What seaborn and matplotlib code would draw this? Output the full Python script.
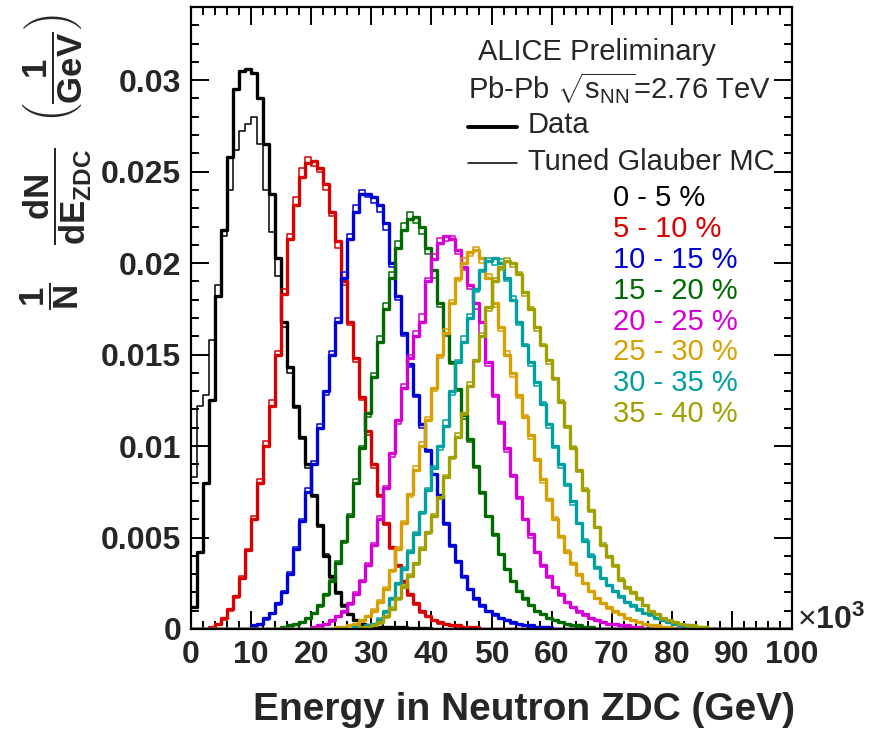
import numpy as np
import pandas as pd
import matplotlib
matplotlib.use("Agg")
import matplotlib.pyplot as plt
import seaborn as sns
from matplotlib.lines import Line2D

sns.set_theme(style="ticks")
plt.rcParams["font.family"] = ["Liberation Sans", "DejaVu Sans"]
plt.rcParams["mathtext.fontset"] = "custom"
plt.rcParams["mathtext.rm"] = "Liberation Sans"
plt.rcParams["mathtext.it"] = "Liberation Sans:italic"
plt.rcParams["mathtext.bf"] = "Liberation Sans:bold"

# ---------------- data ----------------
# histogram bin width: 1 (x10^3 GeV); values in units of 1e-4 (1/N dN/dE, 1/GeV)
UNIT = 1e-4
BIN_W = 1.0
E_MIN, E_MAX = 0, 100

classes = ["0 - 5 %", "5 - 10 %", "10 - 15 %", "15 - 20 %",
           "20 - 25 %", "25 - 30 %", "30 - 35 %", "35 - 40 %"]
colors = ["#000000", "#d80000", "#0000d8", "#006a00",
          "#d400d4", "#d6a000", "#00a0a0", "#a0a000"]

# first bin lower edge (x10^3 GeV) of each class
start_0_5, start_5_10, start_10_15, start_15_20 = 0, 3, 10, 15
start_20_25, start_25_30, start_30_35, start_35_40 = 20, 24, 27, 28

data_0_5 = [12, 42, 80, 125, 182, 218, 258, 295, 305, 306, 304, 290, 265, 238, 203,
            168, 143, 122, 105, 90, 73, 57, 40, 29, 20, 13, 8, 5, 3, 2, 1.5, 1, 1, 1,
            1, 1, 0.5, 0.5, 0.5, 0.5]
mc_0_5 = [83, 122, 128, 158, 188, 215, 240, 262, 272, 276, 280, 265, 240, 217, 193,
          165, 140, 121, 104, 88, 72, 56, 41, 28, 19, 12, 8, 5, 3, 2, 1, 1, 1, 0.5, 0.5]

data_5_10 = [1, 3, 6, 11, 18, 28, 43, 60, 80, 100, 122, 150, 183, 213, 232, 247, 255,
             256, 252, 243, 228, 212, 190, 168, 148, 127, 108, 90, 73, 58, 45, 35, 26,
             19, 14, 10, 7, 5, 4, 3, 2, 2, 1, 1, 1]
mc_5_10 = [1, 2, 5, 10, 17, 29, 44, 62, 82, 103, 125, 152, 186, 216, 236, 252, 258,
           253, 250, 240, 226, 208, 188, 166, 146, 125, 106, 88, 72, 57, 44, 34, 25,
           18, 13, 9, 7, 5, 3, 3, 2, 1, 1, 1, 1]

data_10_15 = [2, 3, 6, 9, 14, 20, 30, 44, 59, 75, 90, 110, 130, 150, 168, 192, 213,
              228, 238, 238, 236, 232, 222, 200, 182, 162, 145, 128, 112, 98, 85, 73,
              58, 46, 37, 29, 22, 17, 13, 10, 8, 6, 5, 4, 3, 2, 2, 1, 1, 1]
mc_10_15 = [1, 3, 5, 9, 13, 21, 31, 45, 60, 77, 92, 112, 128, 152, 170, 195, 216,
            232, 240, 236, 233, 228, 218, 198, 180, 160, 143, 127, 110, 97, 84, 71,
            57, 45, 36, 28, 22, 16, 12, 10, 7, 6, 5, 3, 3, 2, 1, 1, 1, 1]

data_15_20 = [1, 2, 3, 4, 6, 9, 13, 19, 26, 36, 48, 62, 80, 99, 118, 138, 157, 175,
              192, 208, 218, 224, 225, 220, 208, 196, 178, 162, 146, 131, 117, 104, 89,
              75, 62, 52, 41, 33, 26, 21, 17, 13, 10, 8, 6, 5, 4, 3, 2, 2, 1, 1]
mc_15_20 = [1, 1, 2, 4, 6, 8, 12, 18, 27, 37, 47, 63, 82, 100, 116, 140, 160, 178,
            195, 212, 222, 228, 222, 216, 205, 192, 176, 160, 145, 130, 115, 102, 88,
            74, 61, 51, 41, 32, 26, 21, 16, 13, 10, 8, 6, 5, 4, 3, 2, 1, 1, 1]

data_20_25 = [1, 2, 3, 5, 7, 10, 14, 19, 26, 35, 46, 60, 77, 96, 114, 132, 148, 160,
              168, 190, 202, 211, 215, 213, 207, 198, 188, 178, 168, 146, 128, 113, 99,
              84, 72, 60, 52, 42, 35, 29, 23, 19, 15, 12, 10, 8, 6, 5, 4, 3, 3, 2, 2,
              1, 1]
mc_20_25 = [1, 1, 3, 4, 7, 9, 13, 20, 27, 36, 47, 62, 78, 94, 112, 134, 150, 163,
            172, 192, 205, 214, 212, 215, 205, 196, 186, 175, 160, 144, 127, 112, 97,
            83, 71, 60, 50, 42, 34, 28, 23, 18, 15, 12, 9, 7, 6, 5, 4, 3, 2, 2, 1, 1,
            1]

data_25_30 = [1, 1, 2, 3, 5, 7, 10, 15, 22, 32, 44, 58, 74, 87, 100, 114, 132, 150,
              162, 178, 192, 200, 206, 207, 203, 192, 178, 165, 150, 140, 128, 116, 106,
              93, 82, 71, 60, 51, 42, 36, 30, 25, 21, 17, 14, 12, 10, 8, 6, 5, 4, 3, 2,
              2, 1, 1]
mc_25_30 = [1, 1, 2, 3, 4, 7, 11, 16, 23, 31, 45, 59, 72, 89, 102, 116, 130, 148,
            164, 180, 190, 203, 204, 209, 200, 194, 176, 163, 152, 138, 126, 117, 104,
            92, 80, 70, 61, 50, 43, 35, 29, 25, 20, 17, 14, 11, 9, 8, 6, 5, 4, 3, 2,
            1, 1, 1]

data_30_35 = [1, 1, 2, 3, 5, 10, 17, 25, 33, 42, 52, 64, 76, 88, 100, 111, 130, 146,
              157, 170, 186, 196, 201, 203, 200, 192, 180, 168, 155, 146, 135, 123, 112,
              100, 90, 79, 70, 58, 48, 40, 34, 28, 24, 21, 18, 15, 13, 11, 9, 8, 6, 5,
              4, 3, 2, 2, 1, 1]
mc_30_35 = [1, 1, 2, 3, 6, 9, 16, 24, 34, 43, 53, 63, 77, 89, 98, 114, 128, 147, 160,
            172, 184, 195, 203, 199, 202, 190, 182, 166, 156, 144, 133, 124, 110, 99,
            88, 78, 68, 58, 49, 41, 33, 28, 24, 20, 17, 15, 12, 10, 9, 7, 6, 5, 4, 3,
            2, 1, 1, 1]

data_35_40 = [1, 1, 2, 4, 7, 11, 17, 23, 29, 36, 44, 53, 62, 72, 83, 94, 105, 118,
              133, 147, 160, 176, 190, 198, 201, 200, 194, 184, 175, 165, 155, 147, 137,
              124, 111, 99, 87, 76, 65, 56, 46, 40, 35, 27, 23, 20, 17, 13, 10, 8, 6, 5,
              4, 3, 2, 2, 1, 1]
mc_35_40 = [1, 1, 2, 3, 6, 12, 16, 24, 30, 35, 45, 52, 63, 71, 84, 93, 107, 117, 135,
            146, 162, 174, 192, 196, 203, 198, 195, 182, 176, 163, 156, 145, 136, 125,
            110, 100, 86, 77, 64, 55, 47, 39, 34, 28, 22, 19, 16, 13, 10, 8, 6, 5, 4,
            3, 2, 1, 1, 1]

starts = [start_0_5, start_5_10, start_10_15, start_15_20,
          start_20_25, start_25_30, start_30_35, start_35_40]
data_series = [data_0_5, data_5_10, data_10_15, data_15_20,
               data_20_25, data_25_30, data_30_35, data_35_40]
mc_series = [mc_0_5, mc_5_10, mc_10_15, mc_15_20,
             mc_20_25, mc_25_30, mc_30_35, mc_35_40]

x_ticks = [0, 10, 20, 30, 40, 50, 60, 70, 80, 90, 100]
x_ticklabels = ["0", "10", "20", "30", "40", "50", "60", "70", "80", "90", "100"]
y_ticks = [0, 0.005, 0.01, 0.015, 0.02, 0.025, 0.03]
y_ticklabels = ["0", "0.005", "0.01", "0.015", "0.02", "0.025", "0.03"]

# ---------------- figure ----------------
W, H = 874, 735
def fx(px):
    return px / W
def fy(py):
    return 1 - py / H

fig = plt.figure(figsize=(W / 100, H / 100), dpi=100)
fig.patch.set_facecolor("white")
ax = fig.add_axes([fx(191), fy(629), fx(792) - fx(191), fy(7) - fy(629)])
ax.set_facecolor("white")

n_bins = int(round((E_MAX - E_MIN) / BIN_W))
LW_DATA, LW_MC = 2.4, 1.1
for i in range(len(classes)):
    for vals, lw in ((data_series[i], LW_DATA), (mc_series[i], LW_MC)):
        df = pd.DataFrame({
            "E": starts[i] + BIN_W * (np.arange(len(vals)) + 0.5),
            "w": np.asarray(vals, float) * UNIT,
        })
        sns.histplot(data=df, x="E", weights="w", bins=n_bins,
                     binrange=(E_MIN, E_MAX), element="step", fill=False,
                     color=colors[i], linewidth=lw, ax=ax)

ax.set_xlim(0, 100)
ax.set_ylim(0, 0.034)
ax.set_xlabel("")
ax.set_ylabel("")
ax.set_xticks(x_ticks, x_ticklabels)
ax.set_yticks(y_ticks, y_ticklabels)
ax.set_xticks(np.arange(0, 101, 2), minor=True)
ax.set_yticks(np.arange(0, 0.0341, 0.001), minor=True)
for lab in ax.get_xticklabels() + ax.get_yticklabels():
    lab.set_fontweight("bold")
    lab.set_fontsize(23)
ax.tick_params(which="both", direction="in", top=True, right=True, color="black")
ax.tick_params(which="major", length=13, width=1.4)
ax.tick_params(which="minor", length=6, width=1.4)
ax.tick_params(axis="x", which="major", pad=8)
ax.tick_params(axis="y", which="major", pad=7)
for s in ax.spines.values():
    s.set_linewidth(1.6)
    s.set_color("black")

# axis titles
fig.text(fx(795), fy(710), "Energy in Neutron ZDC (GeV)", ha="right", va="center",
         fontsize=28, fontweight="bold")
fig.text(fx(797), fy(620), r"$\times\mathbf{10^{3}}$", ha="left", va="center",
         fontsize=23)
# y title, built from its three pieces (rotated)
fig.text(fx(50), fy(296), r"$\dfrac{\mathbf{1}}{\mathbf{N}}$",
         rotation=90, ha="center", va="center", fontsize=25)
fig.text(fx(58), fy(196), r"$\dfrac{\mathbf{dN}}{\mathbf{dE_{ZDC}}}$",
         rotation=90, ha="center", va="center", fontsize=25)
fig.text(fx(52), fy(68), r"$\left(\dfrac{\mathbf{1}}{\mathbf{GeV}}\right)$",
         rotation=90, ha="center", va="center", fontsize=25)

# legend block
fig.text(fx(478), fy(52), "ALICE Preliminary", ha="left", va="center", fontsize=21)
fig.text(fx(468), fy(88), r"Pb-Pb $\sqrt{\mathrm{s}_{\mathrm{NN}}}$=2.76 TeV",
         ha="left", va="center", fontsize=21)
fig.add_artist(Line2D([fx(468), fx(517)], [fy(127), fy(127)], color="black",
                      lw=LW_DATA + 0.4))
fig.text(fx(528), fy(125), "Data", ha="left", va="center", fontsize=21)
fig.add_artist(Line2D([fx(468), fx(517)], [fy(163), fy(163)], color="black",
                      lw=LW_MC))
fig.text(fx(528), fy(162), "Tuned Glauber MC", ha="left", va="center", fontsize=21)
for i, (lab, c) in enumerate(zip(classes, colors)):
    fig.text(fx(613), fy(198 + 30.9 * i), lab, ha="left", va="center", fontsize=21,
             color=c)

fig.savefig("out.png", dpi=100, facecolor="white")
